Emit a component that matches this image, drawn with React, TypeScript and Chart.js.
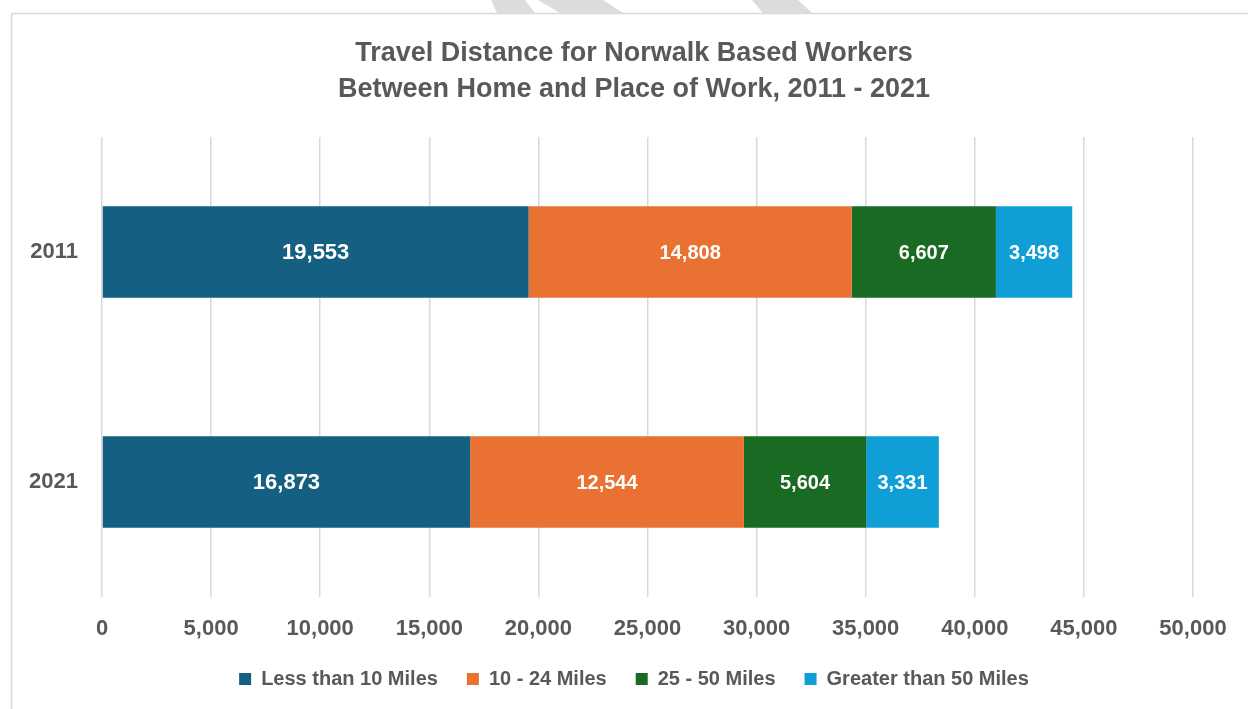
import React, { useEffect, useRef } from "react";
import { Chart, registerables } from "chart.js";

Chart.register(...registerables);

const years = ["2011", "2021"];
const seriesNames = ["Less than 10 Miles", "10 - 24 Miles", "25 - 50 Miles", "Greater than 50 Miles"];
const lessThan10 = [19553, 16873];
const from10to24 = [14808, 12544];
const from25to50 = [6607, 5604];
const over50 = [3498, 3331];
const seriesColors = ["#156082", "#E97132", "#196B24", "#0F9ED5"];
const xMin = 0;
const xMax = 50000;
const xStep = 5000;
const titleLines = ["Travel Distance for Norwalk Based Workers", "Between Home and Place of Work, 2011 - 2021"];

const FONT = "'Liberation Sans', Arial, sans-serif";
const TEXT = "#595959";
const GRID = "#D9D9D9";

const fmt = (v: number) => String(Math.round(Number(v))).replace(/\B(?=(\d{3})+(?!\d))/g, ",");

const framePlugin = {
  id: "frame",
  beforeDraw(chart: any) {
    const ctx = chart.ctx;
    const w = chart.width;
    const h = chart.height;
    ctx.save();
    ctx.fillStyle = "#ffffff";
    ctx.fillRect(0, 0, w, h);
    // faint watermark fragments above the frame
    ctx.fillStyle = "#DCDCDC";
    const shapes = [
      [491, 525, 535, 497],
      [538, 603, 623, 560],
      [752, 798, 812, 763],
    ];
    shapes.forEach(([a, b, c, d]) => {
      ctx.beginPath();
      ctx.moveTo(a, 0);
      ctx.lineTo(b, 0);
      ctx.lineTo(c, 13);
      ctx.lineTo(d, 13);
      ctx.closePath();
      ctx.fill();
    });
    ctx.strokeStyle = GRID;
    ctx.lineWidth = 1.5;
    ctx.beginPath();
    ctx.moveTo(11.5, h);
    ctx.lineTo(11.5, 13.5);
    ctx.lineTo(w, 13.5);
    ctx.stroke();
    ctx.restore();
  },
};

const labelPlugin = {
  id: "barLabels",
  afterDatasetsDraw(chart: any) {
    const ctx = chart.ctx;
    ctx.save();
    ctx.fillStyle = "#ffffff";
    ctx.textAlign = "center";
    ctx.textBaseline = "middle";
    chart.data.datasets.forEach((ds: any, i: number) => {
      const meta = chart.getDatasetMeta(i);
      ctx.font = `bold ${i === 0 ? 22 : 20}px ${FONT}`;
      meta.data.forEach((bar: any, j: number) => {
        const p = bar.getCenterPoint();
        ctx.fillText(fmt(ds.data[j]), p.x, p.y + 1);
      });
    });
    ctx.restore();
  },
};

export default function App() {
  const ref = useRef<HTMLCanvasElement | null>(null);

  useEffect(() => {
    if (!ref.current) return;
    const values = [lessThan10, from10to24, from25to50, over50];
    const chart = new Chart(ref.current, {
      type: "bar",
      data: {
        labels: years,
        datasets: values.map((d, i) => ({
          label: seriesNames[i],
          data: d,
          backgroundColor: seriesColors[i],
          borderWidth: 0,
          barPercentage: 0.397,
          categoryPercentage: 1,
        })),
      },
      plugins: [framePlugin, labelPlugin],
      options: {
        indexAxis: "y",
        locale: "en-US",
        responsive: false,
        animation: false,
        devicePixelRatio: 1,
        events: [],
        layout: { padding: { left: 20, right: 0, top: 0, bottom: 10 } },
        scales: {
          x: {
            type: "linear",
            stacked: true,
            min: xMin,
            max: xMax,
            position: "bottom",
            afterFit: (s: any) => {
              s.height = 43;
            },
            grid: { color: GRID, lineWidth: 1.5, drawTicks: false },
            border: { display: false },
            ticks: {
              stepSize: xStep,
              padding: 19,
              color: TEXT,
              font: { family: FONT, size: 22, weight: "bold" },
              callback: (v: any) => fmt(v),
              maxRotation: 0,
            },
          },
          y: {
            type: "category",
            stacked: true,
            afterFit: (s: any) => {
              s.width = 82;
            },
            grid: { display: false, drawTicks: false },
            border: { display: false },
            ticks: {
              padding: 24,
              color: TEXT,
              font: { family: FONT, size: 22, weight: "bold" },
            },
          },
          yR: {
            type: "linear",
            position: "right",
            display: true,
            afterFit: (s: any) => {
              s.width = 55;
            },
            grid: { display: false, drawTicks: false },
            border: { display: false },
            ticks: { display: false },
          },
        },
        plugins: {
          tooltip: { enabled: false },
          title: {
            display: true,
            text: titleLines,
            color: TEXT,
            font: { family: FONT, size: 27, weight: "bold", lineHeight: 36 / 27 },
            padding: { top: 36, bottom: 29 },
          },
          legend: {
            position: "bottom",
            labels: {
              boxWidth: 12,
              boxHeight: 12,
              padding: 29,
              color: TEXT,
              font: { family: FONT, size: 20, weight: "bold" },
            },
          },
        },
      },
    } as any);
    return () => chart.destroy();
  }, []);

  return (
    <div style={{ position: "fixed", left: 0, top: 0, width: 1248, height: 709, background: "#fff" }}>
      <canvas ref={ref} width={1248} height={709} style={{ display: "block", width: 1248, height: 709 }} />
    </div>
  );
}
